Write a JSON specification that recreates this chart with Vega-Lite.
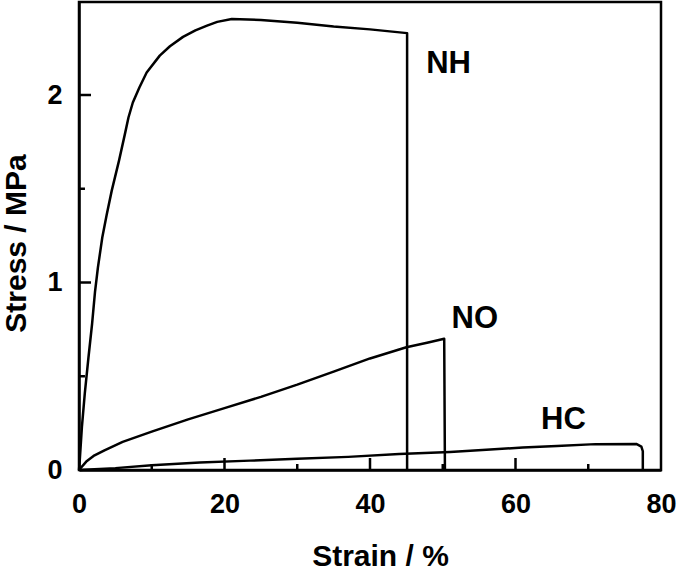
{
  "$schema": "https://vega.github.io/schema/vega-lite/v6.json",
  "width": 582,
  "height": 468,
  "autosize": {"type": "none"},
  "padding": {"left": 79, "top": 2, "right": 24, "bottom": 101},
  "background": "white",
  "config": {
    "view": {"stroke": "black", "strokeWidth": 2.5},
    "font": "Liberation Sans"
  },
  "datasets": {
    "curves": [
      {"s": "NH", "i": 0, "x": 0, "y": 0},
      {"s": "NH", "i": 1, "x": 0.1, "y": 0.05},
      {"s": "NH", "i": 2, "x": 0.4, "y": 0.23},
      {"s": "NH", "i": 3, "x": 0.8, "y": 0.41},
      {"s": "NH", "i": 4, "x": 1.3, "y": 0.6},
      {"s": "NH", "i": 5, "x": 1.8, "y": 0.78},
      {"s": "NH", "i": 6, "x": 2.2, "y": 0.95},
      {"s": "NH", "i": 7, "x": 2.6, "y": 1.08},
      {"s": "NH", "i": 8, "x": 3.2, "y": 1.24},
      {"s": "NH", "i": 9, "x": 3.8, "y": 1.36},
      {"s": "NH", "i": 10, "x": 4.5, "y": 1.49},
      {"s": "NH", "i": 11, "x": 5.5, "y": 1.65},
      {"s": "NH", "i": 12, "x": 6.3, "y": 1.79},
      {"s": "NH", "i": 13, "x": 6.8, "y": 1.88},
      {"s": "NH", "i": 14, "x": 7.4, "y": 1.96},
      {"s": "NH", "i": 15, "x": 8.3, "y": 2.04},
      {"s": "NH", "i": 16, "x": 9.3, "y": 2.12},
      {"s": "NH", "i": 17, "x": 11.1, "y": 2.21},
      {"s": "NH", "i": 18, "x": 12.5, "y": 2.26},
      {"s": "NH", "i": 19, "x": 14.3, "y": 2.31},
      {"s": "NH", "i": 20, "x": 16, "y": 2.345},
      {"s": "NH", "i": 21, "x": 17.6, "y": 2.37},
      {"s": "NH", "i": 22, "x": 19, "y": 2.39},
      {"s": "NH", "i": 23, "x": 21, "y": 2.405},
      {"s": "NH", "i": 24, "x": 25, "y": 2.4},
      {"s": "NH", "i": 25, "x": 30, "y": 2.385},
      {"s": "NH", "i": 26, "x": 35, "y": 2.365},
      {"s": "NH", "i": 27, "x": 40, "y": 2.35},
      {"s": "NH", "i": 28, "x": 45.1, "y": 2.33},
      {"s": "NH", "i": 29, "x": 45.1, "y": 0},
      {"s": "NO", "i": 0, "x": 0, "y": 0},
      {"s": "NO", "i": 1, "x": 1, "y": 0.045},
      {"s": "NO", "i": 2, "x": 2, "y": 0.075},
      {"s": "NO", "i": 3, "x": 3.5, "y": 0.105},
      {"s": "NO", "i": 4, "x": 6, "y": 0.15},
      {"s": "NO", "i": 5, "x": 10, "y": 0.205},
      {"s": "NO", "i": 6, "x": 15, "y": 0.27},
      {"s": "NO", "i": 7, "x": 20, "y": 0.33},
      {"s": "NO", "i": 8, "x": 25, "y": 0.39},
      {"s": "NO", "i": 9, "x": 30, "y": 0.455},
      {"s": "NO", "i": 10, "x": 35, "y": 0.525},
      {"s": "NO", "i": 11, "x": 40, "y": 0.595},
      {"s": "NO", "i": 12, "x": 45, "y": 0.655},
      {"s": "NO", "i": 13, "x": 48, "y": 0.68},
      {"s": "NO", "i": 14, "x": 50.2, "y": 0.7},
      {"s": "NO", "i": 15, "x": 50.3, "y": 0},
      {"s": "HC", "i": 0, "x": 0, "y": 0},
      {"s": "HC", "i": 1, "x": 5, "y": 0.01},
      {"s": "HC", "i": 2, "x": 10, "y": 0.025},
      {"s": "HC", "i": 3, "x": 16.6, "y": 0.04},
      {"s": "HC", "i": 4, "x": 23.5, "y": 0.05},
      {"s": "HC", "i": 5, "x": 30, "y": 0.06},
      {"s": "HC", "i": 6, "x": 37, "y": 0.07},
      {"s": "HC", "i": 7, "x": 44, "y": 0.085},
      {"s": "HC", "i": 8, "x": 51, "y": 0.096},
      {"s": "HC", "i": 9, "x": 56, "y": 0.108},
      {"s": "HC", "i": 10, "x": 61, "y": 0.12},
      {"s": "HC", "i": 11, "x": 65.7, "y": 0.128},
      {"s": "HC", "i": 12, "x": 71, "y": 0.138},
      {"s": "HC", "i": 13, "x": 76.6, "y": 0.139},
      {"s": "HC", "i": 14, "x": 77.3, "y": 0.125},
      {"s": "HC", "i": 15, "x": 77.5, "y": 0.1},
      {"s": "HC", "i": 16, "x": 77.5, "y": 0}
    ],
    "labels": [
      {"label": "NH", "x": 50.8, "y": 2.12},
      {"label": "NO", "x": 54.4, "y": 0.757},
      {"label": "HC", "x": 66.6, "y": 0.219}
    ],
    "xmajor": [{"v": 20}, {"v": 40}, {"v": 60}],
    "xminor": [{"v": 10}, {"v": 30}, {"v": 50}, {"v": 70}],
    "ymajor": [{"v": 1}, {"v": 2}],
    "yminor": [{"v": 0.5}, {"v": 1.5}]
  },
  "layer": [
    {
      "data": {"name": "curves"},
      "mark": {"type": "line", "stroke": "black", "strokeWidth": 2.5, "strokeJoin": "round"},
      "encoding": {
        "x": {
          "field": "x", "type": "quantitative",
          "scale": {"domain": [0, 80], "nice": false},
          "axis": {
            "values": [0, 20, 40, 60, 80],
            "ticks": false,
            "domainColor": "black", "domainWidth": 2.5,
            "grid": false,
            "labelFont": "Liberation Sans", "labelFontWeight": "bold", "labelFontSize": 27, "labelColor": "black",
            "labelBaseline": "alphabetic", "labelPadding": 42, "labelFlush": false, "labelOverlap": false,
            "title": "Strain / %",
            "titleFont": "Liberation Sans", "titleFontWeight": "bold", "titleFontSize": 30, "titleColor": "black",
            "titleX": 301, "titleY": 95, "titleBaseline": "alphabetic", "titleAlign": "center"
          }
        },
        "y": {
          "field": "y", "type": "quantitative",
          "scale": {"domain": [0, 2.496], "nice": false},
          "axis": {
            "values": [0, 1, 2],
            "format": "d",
            "ticks": false,
            "domainColor": "black", "domainWidth": 2.5,
            "grid": false,
            "labelFont": "Liberation Sans", "labelFontWeight": "bold", "labelFontSize": 27, "labelColor": "black",
            "labelBaseline": "middle", "labelPadding": 17, "labelFlush": false, "labelOverlap": false,
            "title": "Stress / MPa",
            "titleFont": "Liberation Sans", "titleFontWeight": "bold", "titleFontSize": 30, "titleColor": "black",
            "titleX": -63, "titleY": 241, "titleBaseline": "middle", "titleAlign": "center", "titleAngle": -90
          }
        },
        "detail": {"field": "s"},
        "order": {"field": "i", "type": "quantitative"}
      }
    },
    {
      "data": {"name": "xmajor"},
      "mark": {"type": "tick", "orient": "vertical", "color": "black", "opacity": 1, "size": 12, "thickness": 2.5},
      "encoding": {
        "x": {"field": "v", "type": "quantitative"},
        "y": {"datum": 0.032, "type": "quantitative"}
      }
    },
    {
      "data": {"name": "xminor"},
      "mark": {"type": "tick", "orient": "vertical", "color": "black", "opacity": 1, "size": 6, "thickness": 2.5},
      "encoding": {
        "x": {"field": "v", "type": "quantitative"},
        "y": {"datum": 0.016, "type": "quantitative"}
      }
    },
    {
      "data": {"name": "ymajor"},
      "mark": {"type": "rule", "color": "black", "strokeWidth": 2.5},
      "encoding": {
        "y": {"field": "v", "type": "quantitative"},
        "x": {"datum": 0},
        "x2": {"datum": 1.65}
      }
    },
    {
      "data": {"name": "yminor"},
      "mark": {"type": "rule", "color": "black", "strokeWidth": 2.5},
      "encoding": {
        "y": {"field": "v", "type": "quantitative"},
        "x": {"datum": 0.001},
        "x2": {"datum": 0.82}
      }
    },
    {
      "data": {"name": "labels"},
      "mark": {"type": "text", "font": "Liberation Sans", "fontWeight": "bold", "fontSize": 31, "align": "center", "baseline": "alphabetic", "color": "black"},
      "encoding": {
        "x": {"field": "x", "type": "quantitative"},
        "y": {"field": "y", "type": "quantitative"},
        "text": {"field": "label"}
      }
    }
  ]
}
